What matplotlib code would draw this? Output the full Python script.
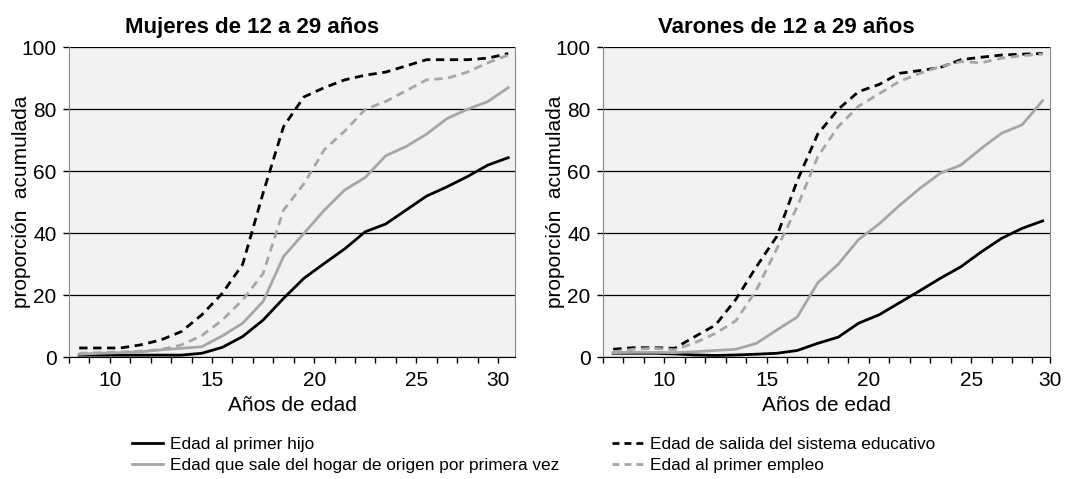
import numpy as np
from matplotlib import pyplot as plt
from matplotlib.lines import Line2D

plt.rcParams['font.family'] = ['Liberation Sans', 'DejaVu Sans']

# Categorias de edad (cada punto va centrado en su categoria)
edades_m = [8, 9, 10, 11, 12, 13, 14, 15, 16, 17, 18, 19, 20, 21, 22, 23, 24, 25, 26, 27, 28, 29]
edades_v = [7, 8, 9, 10, 11, 12, 13, 14, 15, 16, 17, 18, 19, 20, 21, 22, 23, 24, 25, 26, 27, 28]

# Mujeres
hijo_m = [0.7, 0.7, 0.7, 0.7, 0.7, 0.7, 1.3, 3.2, 6.7, 12, 19, 25.5, 30.3, 35, 40.5, 43, 47.5, 52, 55, 58.3, 62, 64.4]
hogar_m = [1, 1.3, 1.5, 1.8, 2.4, 2.9, 3.4, 6.9, 11, 18, 32.5, 40, 47.5, 54, 58, 65, 68, 72, 77, 80, 82.5, 87]
salida_m = [3, 3, 3, 4, 5.6, 8.3, 13.7, 20.6, 30, 53, 74.4, 84, 87, 89.5, 91, 92, 94, 96, 96, 96, 96.5, 98]
empleo_m = [1.3, 1.5, 1.7, 2, 2.5, 4, 7, 12, 18.5, 27, 47.5, 56, 67, 73, 80, 82.5, 86, 89.5, 90, 92, 95, 97.5]

# Varones
hijo_v = [1.3, 1.3, 1.3, 1.1, 0.75, 0.6, 0.75, 1, 1.3, 2.2, 4.5, 6.5, 11, 13.7, 17.6, 21.5, 25.5, 29.2, 34, 38.4, 41.6, 44]
hogar_v = [1.5, 1.6, 1.6, 1.5, 1.8, 2.2, 2.6, 4.5, 8.8, 13, 24, 30, 38, 43, 49, 54.5, 59.4, 62, 67.4, 72.3, 75, 82.8]
salida_v = [2.6, 3.1, 3.1, 2.9, 6.7, 10.4, 18.7, 29.2, 39, 57, 72, 80, 85.7, 88, 91.6, 92.5, 93.5, 96, 96.8, 97.5, 97.8, 98]
empleo_v = [1.8, 2.6, 2.9, 2.4, 4.7, 7.7, 11.8, 21.7, 35, 48.6, 64.7, 74.4, 81, 85, 89, 91.6, 93.8, 95.4, 95, 96.5, 97.3, 97.8]

etiquetas_x = ['10', '15', '20', '25', '30']
etiquetas_serie = ['Edad al primer hijo',
                   'Edad que sale del hogar de origen por primera vez',
                   'Edad de salida del sistema educativo',
                   'Edad al primer empleo']

GRIS = '#a6a6a6'
estilos = [dict(color='black', ls='-'),
           dict(color=GRIS, ls='-'),
           dict(color='black', ls=(0, (3, 2))),
           dict(color=GRIS, ls=(0, (3, 2)))]

fig = plt.figure(figsize=(10.69, 4.79), dpi=100)
ax1 = fig.add_axes([69 / 1069, 1 - 357.3 / 479, 446 / 1069, 310 / 479])
ax2 = fig.add_axes([603 / 1069, 1 - 357.3 / 479, 447 / 1069, 310 / 479])


def dibujar(ax, edades, series, titulo, xlim, pos_labels):
    x = np.array(edades) + 0.5
    for y, st in zip(series, estilos):
        ax.plot(x, y, lw=2.0, **st)
    ax.set_facecolor('#f2f2f2')
    ax.set_ylim(0, 100)
    ax.set_xlim(*xlim)
    ax.set_yticks([0, 20, 40, 60, 80, 100])
    ax.yaxis.grid(True, color='black', lw=0.9)
    ax.set_axisbelow(True)
    ticks = list(range(int(xlim[0]), int(np.ceil(xlim[1]))))
    ticks = sorted(set(ticks + pos_labels))
    labels = []
    for t in ticks:
        labels.append(etiquetas_x[pos_labels.index(t)] if t in pos_labels else '')
    ax.set_xticks(ticks)
    ax.set_xticklabels(labels)
    ax.tick_params(axis='both', labelsize=15, direction='out', length=4, width=1, color='black')
    ax.tick_params(axis='x', pad=6)
    ax.tick_params(axis='y', pad=5)
    for s in ['left', 'right']:
        ax.spines[s].set_color('#888888')
    ax.spines['top'].set_visible(False)
    ax.spines['bottom'].set_color('black')
    ax.set_title(titulo, fontsize=16, fontweight='bold', pad=10, x=0.41)
    ax.set_xlabel('Años de edad', fontsize=15, labelpad=4)
    ax.set_ylabel('proporción  acumulada', fontsize=15)
    ax.yaxis.set_label_coords(-0.085, 0.5)


dibujar(ax1, edades_m, [hijo_m, hogar_m, salida_m, empleo_m],
        'Mujeres de 12 a 29 años', (8, 29.83), [10, 15, 20, 25, 29])
dibujar(ax2, edades_v, [hijo_v, hogar_v, salida_v, empleo_v],
        'Varones de 12 a 29 años', (7, 28.86), [10, 15, 20, 25, 28.85])

handles = []
for st in estilos:
    ls = st['ls'] if st['ls'] == '-' else (0, (2.5, 1.8))
    handles.append(Line2D([], [], lw=2.0, color=st['color'], ls=ls))
kw = dict(frameon=False, fontsize=12.4, handlelength=1.8, handletextpad=0.4,
          labelspacing=0.35, borderpad=0, borderaxespad=0, loc='upper left')
fig.legend(handles[:2], etiquetas_serie[:2], bbox_to_anchor=(132 / 1069, 1 - 437 / 479), **kw)
fig.legend(handles[2:], etiquetas_serie[2:], bbox_to_anchor=(612 / 1069, 1 - 437 / 479), **kw)

fig.savefig('out.png', dpi=100)
